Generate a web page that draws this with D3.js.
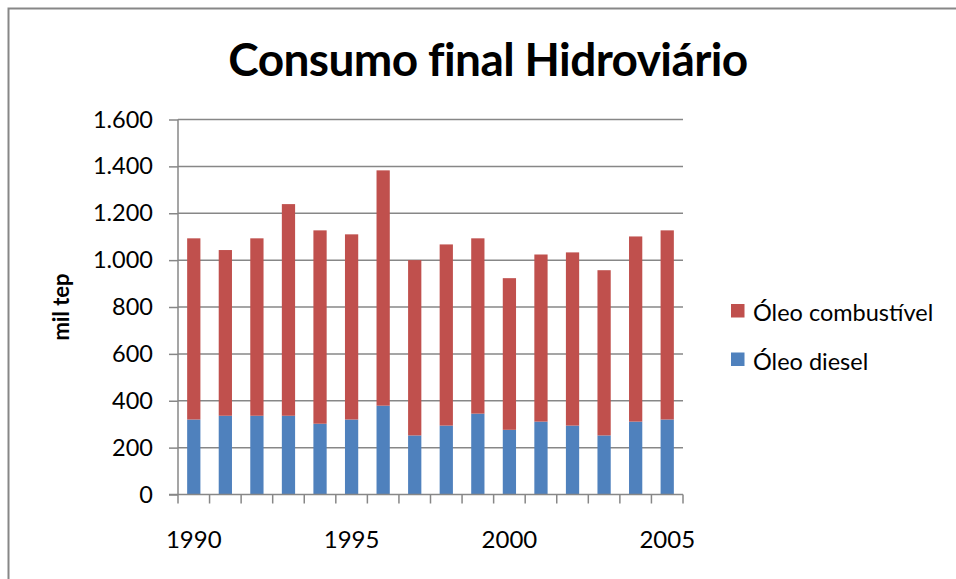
<!DOCTYPE html>
<html>
<head>
<meta charset="utf-8">
<script src="https://cdn.jsdelivr.net/npm/d3@7"></script>
<style>
  body { margin: 0; background: #fff; }
  svg { display: block; }
</style>
</head>
<body>
<script>
// data
var years = ["1990","1991","1992","1993","1994","1995","1996","1997","1998","1999","2000","2001","2002","2003","2004","2005"];
var diesel = [320, 336, 336, 336, 302, 320, 379, 252, 294, 345, 276, 311, 294, 252, 311, 320];
var combustivel = [773, 707, 757, 903, 825, 790, 1004, 748, 773, 748, 647, 713, 739, 705, 790, 807];
var yTicks = [0, 200, 400, 600, 800, 1000, 1200, 1400, 1600];
var yearLabels = ["1990", "1995", "2000", "2005"];
var seriesNames = ["Óleo combustível", "Óleo diesel"];
var colors = {"Óleo combustível": "#C0504D", "Óleo diesel": "#4F81BD"};

var W = 956, H = 579;
var plot = {left: 178, right: 683, top: 119.5, bottom: 494.5};
var font = "Lato, 'Open Sans', sans-serif";

var svg = d3.select("body").append("svg")
    .attr("width", W)
    .attr("height", H);

// chart frame
svg.append("rect")
    .attr("x", 8.5).attr("y", 8.5)
    .attr("width", W + 20).attr("height", H + 20)
    .attr("fill", "#fff")
    .attr("stroke", "#878787")
    .attr("stroke-width", 2);

svg.append("text")
    .attr("x", 488).attr("y", 76)
    .attr("text-anchor", "middle")
    .style("font-family", font)
    .style("font-weight", "bold")
    .style("font-size", "46px")
    .style("letter-spacing", "-0.6px")
    .text("Consumo final Hidroviário");

var x = d3.scaleBand()
    .domain(years)
    .range([plot.left, plot.right])
    .padding(0);

var y = d3.scaleLinear()
    .domain([0, 1600])
    .range([plot.bottom, plot.top]);

var locale = d3.formatLocale({decimal: ",", thousands: ".", grouping: [3], currency: ["", ""]});
var fmt = locale.format(",d");

// gridlines
svg.append("g").selectAll("line")
    .data(yTicks.filter(function(d) { return d > 0; }))
    .enter().append("line")
    .attr("x1", plot.left).attr("x2", plot.right)
    .attr("y1", function(d) { return y(d); })
    .attr("y2", function(d) { return y(d); })
    .attr("stroke", "#878787")
    .attr("stroke-width", 1.5);

// stacked bars
var rows = years.map(function(yr, i) {
  return {year: yr, "Óleo diesel": diesel[i], "Óleo combustível": combustivel[i]};
});
var stack = d3.stack().keys(["Óleo diesel", "Óleo combustível"]);
var layers = stack(rows);
var barW = x.bandwidth() * 0.42;

svg.append("g").selectAll("g")
    .data(layers)
    .enter().append("g")
    .attr("fill", function(d) { return colors[d.key]; })
    .selectAll("rect")
    .data(function(d) { return d; })
    .enter().append("rect")
    .attr("x", function(d) { return x(d.data.year) + (x.bandwidth() - barW) / 2; })
    .attr("width", barW)
    .attr("y", function(d) { return y(d[1]); })
    .attr("height", function(d) { return y(d[0]) - y(d[1]); });

// y axis
var yAxis = svg.append("g")
    .attr("transform", "translate(" + plot.left + ",0)")
    .call(d3.axisLeft(y).tickValues(yTicks).tickFormat(fmt).tickSize(9).tickPadding(16));
yAxis.selectAll("line, path").attr("stroke", "#878787").attr("stroke-width", 1.5);
yAxis.select(".domain").attr("d", "M0," + plot.top + "V" + plot.bottom);
yAxis.selectAll("text")
    .style("font-family", font)
    .style("font-size", "23.5px")
    .attr("fill", "#000");

// x axis: ticks at category boundaries, labels every 5 years
var xg = svg.append("g");
xg.append("line")
    .attr("x1", plot.left - 9).attr("x2", plot.right)
    .attr("y1", plot.bottom).attr("y2", plot.bottom)
    .attr("stroke", "#878787").attr("stroke-width", 1.5);
var bounds = years.map(function(d) { return x(d); }).concat([plot.right]);
xg.selectAll("line.tk")
    .data(bounds)
    .enter().append("line")
    .attr("class", "tk")
    .attr("x1", function(d) { return d; }).attr("x2", function(d) { return d; })
    .attr("y1", plot.bottom).attr("y2", plot.bottom + 9)
    .attr("stroke", "#878787").attr("stroke-width", 1.5);
xg.selectAll("text")
    .data(yearLabels)
    .enter().append("text")
    .attr("x", function(d) { return x(d) + x.bandwidth() / 2; })
    .attr("y", 548)
    .attr("text-anchor", "middle")
    .style("font-family", font)
    .style("font-size", "24px")
    .text(function(d) { return d; });

// y title
svg.append("text")
    .attr("transform", "translate(69,307) rotate(-90)")
    .attr("text-anchor", "middle")
    .style("font-family", font)
    .style("font-weight", "bold")
    .style("font-size", "22px")
    .text("mil tep");

// legend
var legend = svg.append("g").selectAll("g")
    .data(seriesNames)
    .enter().append("g")
    .attr("transform", function(d, i) { return "translate(731," + (304 + i * 48.5) + ")"; });
legend.append("rect")
    .attr("width", 13.5).attr("height", 13.5)
    .attr("fill", function(d) { return colors[d]; });
legend.append("text")
    .attr("x", 22).attr("y", 17)
    .style("font-family", font)
    .style("font-size", "23.5px")
    .text(function(d) { return d; });
</script>
</body>
</html>
